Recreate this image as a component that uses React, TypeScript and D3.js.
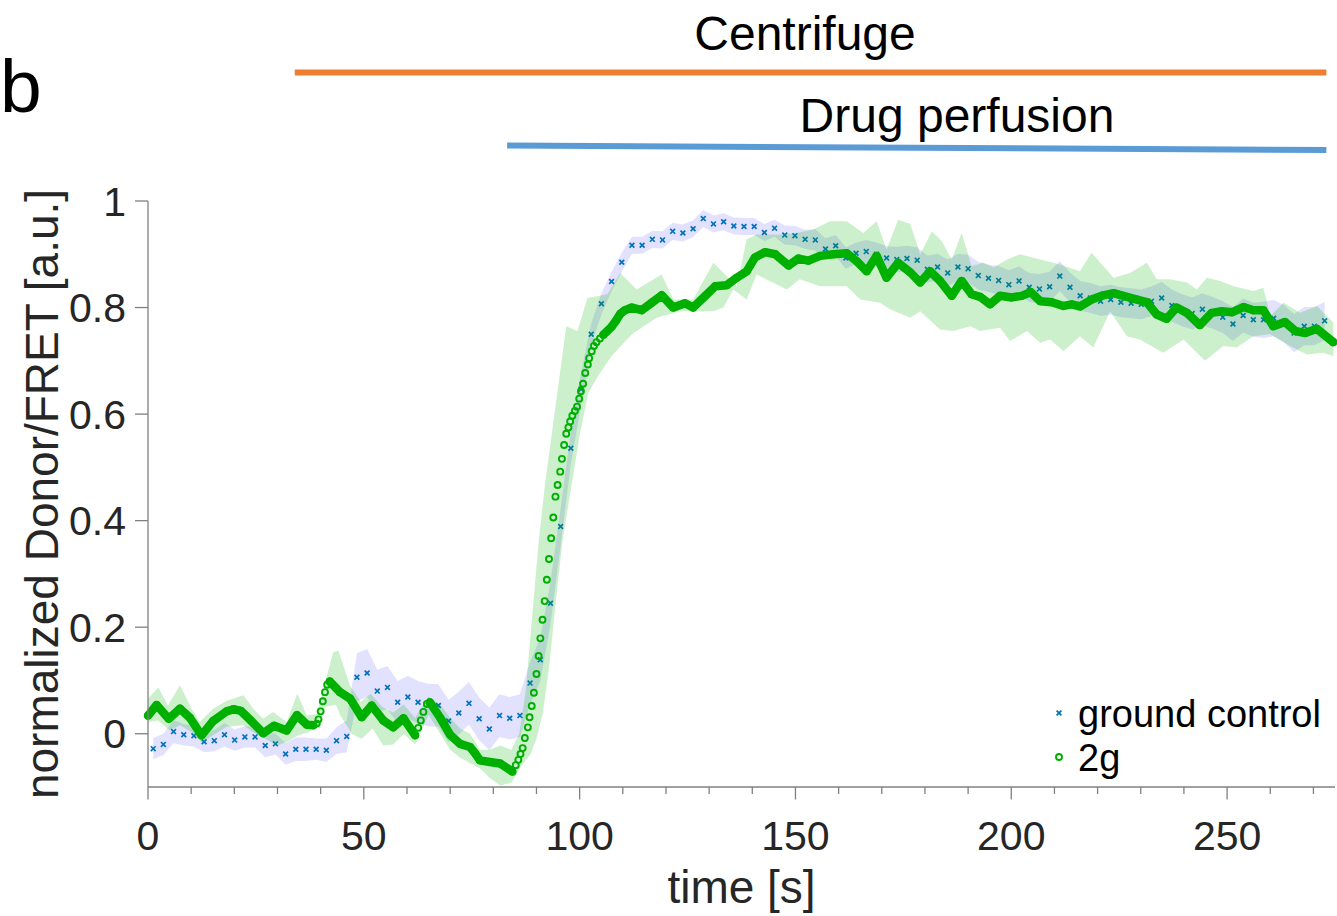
import React from "react";
import * as d3 from "d3";

const W = 1337;
const H = 916;
const FONT = "Arial, 'Liberation Sans', Helvetica, sans-serif";

// ground control: one value per camera frame
const frameStart = 1.2;
const frameStep = 2.36;
const groundControl = [
  -0.028, -0.02, 0.004, -0.002, -0.004, -0.015, -0.013, -0.002, -0.012, -0.006,
  -0.006, -0.022, -0.019, -0.038, -0.029, -0.029, -0.029, -0.031, -0.013, -0.005,
  0.106, 0.114, 0.08, 0.087, 0.059, 0.069, 0.059, 0.054, 0.053, 0.024,
  0.039, 0.057, 0.028, 0.009, 0.034, 0.029, 0.034, 0.095, 0.139, 0.245,
  0.389, 0.536, 0.647, 0.75, 0.807, 0.849, 0.885, 0.917, 0.917, 0.928,
  0.927, 0.943, 0.94, 0.948, 0.967, 0.957, 0.961, 0.953, 0.952, 0.952,
  0.941, 0.949, 0.936, 0.935, 0.928, 0.927, 0.91, 0.916, 0.893, 0.902,
  0.905, 0.9, 0.893, 0.89, 0.892, 0.889, 0.872, 0.876, 0.865, 0.876,
  0.873, 0.86, 0.855, 0.851, 0.843, 0.85, 0.838, 0.835, 0.839, 0.859,
  0.838, 0.822, 0.818, 0.812, 0.815, 0.81, 0.808, 0.806, 0.812, 0.818,
  0.804, 0.795, 0.789, 0.797, 0.79, 0.782, 0.769, 0.785, 0.777, 0.777,
  0.78, 0.77, 0.752, 0.765, 0.765, 0.775,
];
const groundSpread = [
  0.02, 0.02, 0.022, 0.02, 0.02, 0.02, 0.02, 0.022, 0.02, 0.02,
  0.02, 0.022, 0.02, 0.02, 0.022, 0.022, 0.02, 0.022, 0.025, 0.03,
  0.045, 0.045, 0.04, 0.04, 0.04, 0.04, 0.04, 0.04, 0.04, 0.04,
  0.04, 0.04, 0.04, 0.04, 0.04, 0.04, 0.04, 0.04, 0.04, 0.04,
  0.035, 0.03, 0.03,
  0.02, 0.02, 0.018, 0.018, 0.016, 0.016, 0.016, 0.016, 0.016, 0.016,
  0.016, 0.016, 0.016, 0.016, 0.016, 0.016, 0.016, 0.016, 0.016, 0.018,
  0.018, 0.018, 0.02, 0.02, 0.02, 0.02, 0.02,
  0.022, 0.022, 0.022, 0.024, 0.024, 0.024, 0.025, 0.025, 0.025, 0.025,
  0.026, 0.026, 0.026, 0.027, 0.027, 0.027, 0.027, 0.028, 0.028, 0.028,
  0.028, 0.028, 0.028, 0.028, 0.028, 0.028, 0.028, 0.028, 0.028, 0.03,
  0.03, 0.03, 0.03, 0.03, 0.03, 0.03, 0.032, 0.032, 0.032, 0.034,
  0.034, 0.035, 0.036, 0.036, 0.036, 0.036,
];

// 2g: [time s, value]
const g2Trace: [number, number][] = [
  [0, 0.034], [2.0, 0.054], [4.8, 0.028], [7.4, 0.047], [9.7, 0.03], [12.4, -0.003],
  [15.1, 0.024], [18.2, 0.042], [19.8, 0.046], [21.5, 0.043], [23.8, 0.025], [26.7, 0.001],
  [29.2, 0.015], [32.1, 0.006], [34.5, 0.035], [36.8, 0.017], [38.3, 0.016], [39.1, 0.019],
  [39.5, 0.027], [40.0, 0.042], [40.5, 0.061], [41.0, 0.078], [41.5, 0.092], [42.1, 0.098],
  [44.5, 0.078], [46.8, 0.066], [49.5, 0.031], [51.8, 0.053], [54.5, 0.025], [56.8, 0.012],
  [59.2, 0.029], [61.9, -0.003], [62.6, 0.011], [63.2, 0.025], [63.8, 0.041], [64.6, 0.056],
  [65.3, 0.059], [67.7, 0.03], [70.0, -0.002], [72.3, -0.019], [74.6, -0.025], [75.8, -0.037],
  [76.9, -0.05], [79.2, -0.053], [81.6, -0.056], [84.4, -0.071],
  [85.2, -0.059], [85.8, -0.049], [86.3, -0.038], [86.8, -0.027], [87.3, -0.008], [88.0, 0.012],
  [88.4, 0.031], [88.9, 0.052], [89.4, 0.077], [90.0, 0.112], [90.5, 0.146], [90.9, 0.179],
  [91.4, 0.214], [91.9, 0.249], [92.4, 0.289], [92.9, 0.328], [93.4, 0.367], [93.9, 0.406],
  [94.4, 0.445], [94.9, 0.467], [95.5, 0.492], [95.9, 0.516], [96.4, 0.542], [96.9, 0.563],
  [97.4, 0.575], [97.8, 0.586], [98.3, 0.597], [98.9, 0.606], [99.4, 0.614], [99.9, 0.629],
  [100.3, 0.643], [100.8, 0.657], [101.3, 0.677], [101.9, 0.693], [102.2, 0.705], [102.8, 0.718],
  [103.3, 0.728], [103.9, 0.735], [104.7, 0.742], [105.5, 0.749], [106.4, 0.756], [107.4, 0.764],
  [108.4, 0.775], [109.4, 0.788], [110.5, 0.795], [112.1, 0.8], [114.4, 0.795], [116.7, 0.809],
  [119.0, 0.823], [121.7, 0.8], [124.4, 0.808], [126.3, 0.8], [129.1, 0.822], [131.4, 0.84],
  [134.1, 0.842], [136.4, 0.856], [138.7, 0.868], [140.6, 0.894], [143.0, 0.904], [145.3, 0.9],
  [148.4, 0.879], [150.7, 0.892], [153.0, 0.888], [155.7, 0.897], [158.8, 0.9], [161.9, 0.902],
  [164.2, 0.887], [166.5, 0.868], [168.8, 0.897], [171.1, 0.856], [173.8, 0.884], [176.6, 0.866],
  [178.9, 0.847], [181.2, 0.868], [183.5, 0.85], [186.2, 0.822], [188.5, 0.85], [190.8, 0.825],
  [192.8, 0.82], [195.1, 0.806], [197.4, 0.822], [200.1, 0.819], [202.4, 0.822], [204.5, 0.829],
  [206.7, 0.812], [209.4, 0.81], [212.1, 0.803], [214.0, 0.806], [215.9, 0.802], [218.6, 0.815],
  [221.3, 0.823], [223.7, 0.827], [226.8, 0.82], [229.1, 0.815], [231.4, 0.81], [233.7, 0.787],
  [236.0, 0.779], [238.3, 0.8], [240.7, 0.79], [243.7, 0.767], [246.4, 0.79], [248.8, 0.793],
  [251.1, 0.791], [253.8, 0.801], [256.1, 0.795], [258.4, 0.795], [260.7, 0.765], [263.4, 0.773],
  [265.8, 0.756], [268.1, 0.752], [270.8, 0.76], [274.6, 0.735],
];
const g2Upper: [number, number][] = [
  [0, 0.066], [2.4, 0.087], [4.6, 0.053], [7.4, 0.091], [10.1, 0.047], [12.0, 0.022], [15.1, 0.047],
  [18.2, 0.062], [22.1, 0.072], [24.4, 0.047], [26.7, 0.028], [29.0, 0.041], [32.1, 0.022], [34.6, 0.075],
  [36.8, 0.034], [39.1, 0.037], [42.9, 0.153], [44.1, 0.156], [46.8, 0.09], [49.3, 0.06], [51.6, 0.075],
  [54.3, 0.05], [56.8, 0.04], [59.2, 0.055], [61.9, 0.03], [65.0, 0.07], [67.7, 0.055], [70.0, 0.03],
  [72.3, 0.01], [74.6, 0.0], [76.9, -0.03], [79.2, -0.03], [81.6, -0.022], [84.2, -0.03], [86.0, 0.0],
  [87.5, 0.08], [89.0, 0.22], [90.5, 0.36], [92.0, 0.47], [93.7, 0.572], [96.9, 0.765], [99.5, 0.756],
  [101.8, 0.818], [106.4, 0.825], [109.4, 0.865], [113.2, 0.834], [119.0, 0.862], [121.7, 0.815],
  [126.3, 0.815], [131.0, 0.884], [136.4, 0.84], [138.7, 0.928], [141.0, 0.937], [146.4, 0.937],
  [150.3, 0.94], [154.2, 0.947], [158.0, 0.962], [161.9, 0.962], [165.7, 0.94], [168.8, 0.962],
  [171.1, 0.909], [173.8, 0.965], [176.6, 0.957], [178.9, 0.9], [181.6, 0.943], [183.9, 0.925],
  [186.2, 0.89], [188.5, 0.94], [190.8, 0.878], [193.5, 0.884], [195.9, 0.875], [199.0, 0.89],
  [202.0, 0.9], [206.7, 0.89], [211.3, 0.881], [215.9, 0.868], [218.6, 0.903], [221.3, 0.878],
  [223.7, 0.856], [227.5, 0.865], [231.4, 0.884], [233.7, 0.853], [236.8, 0.853], [240.7, 0.847],
  [243.0, 0.834], [245.3, 0.856], [248.4, 0.85], [251.5, 0.84], [256.1, 0.831], [258.4, 0.837],
  [260.0, 0.784], [263.1, 0.809], [266.9, 0.79], [270.8, 0.803], [274.6, 0.772],
];
const g2Lower: [number, number][] = [
  [0, 0.022], [2.3, 0.025], [5.1, 0.006], [7.4, 0.016], [10.1, 0.003], [12.4, -0.016], [15.1, -0.003],
  [18.2, 0.013], [22.1, 0.016], [24.4, 0.003], [27.1, -0.009], [29.8, -0.022], [32.1, -0.016],
  [34.8, -0.003], [37.2, 0.003], [39.5, 0.013], [41.0, 0.05], [43.5, 0.055], [44.5, 0.035], [47.2, 0.0],
  [49.5, -0.01], [52.0, 0.01], [54.5, -0.022], [56.8, -0.02], [59.2, 0.0], [61.9, -0.02], [65.0, 0.035],
  [67.7, 0.0], [70.0, -0.03], [72.3, -0.045], [74.6, -0.055], [76.9, -0.065], [79.2, -0.083],
  [81.6, -0.097], [84.2, -0.092], [86.5, -0.06], [88.5, -0.04], [90.0, -0.01], [91.5, 0.04], [93.0, 0.13],
  [94.5, 0.25], [96.0, 0.36], [98.0, 0.46], [100.0, 0.56], [102.0, 0.64], [104.3, 0.672], [107.4, 0.709],
  [112.1, 0.75], [117.8, 0.781], [123.3, 0.793], [131.0, 0.793], [133.3, 0.8], [135.6, 0.834],
  [138.7, 0.815], [141.0, 0.862], [148.0, 0.834], [151.0, 0.853], [155.7, 0.84], [161.9, 0.84],
  [165.0, 0.815], [169.6, 0.809], [171.9, 0.797], [176.6, 0.781], [178.9, 0.793], [183.5, 0.759],
  [186.6, 0.756], [190.5, 0.765], [192.8, 0.756], [197.4, 0.762], [199.7, 0.737], [203.6, 0.756],
  [206.7, 0.734], [209.0, 0.74], [212.1, 0.718], [215.9, 0.746], [219.0, 0.725], [222.9, 0.793],
  [226.8, 0.746], [229.8, 0.74], [235.2, 0.715], [239.9, 0.74], [244.9, 0.7], [249.1, 0.728],
  [252.2, 0.725], [256.1, 0.746], [260.0, 0.75], [264.6, 0.728], [268.5, 0.712], [272.3, 0.715],
  [274.6, 0.709],
];

// annotation bars: [start s, end s]
const centrifugeSpan = [34, 273];
const drugSpan = [83.2, 273];

const xTicks = [0, 50, 100, 150, 200, 250];
const xMinorTicks = [10, 20, 30, 40, 60, 70, 80, 90, 110, 120, 130, 140, 160, 170, 180, 190, 210, 220, 230, 240, 260, 270];
const yTicks = [0, 0.2, 0.4, 0.6, 0.8, 1];
const yTickLabels = ["0", "0.2", "0.4", "0.6", "0.8", "1"];

const BLUE = "#0072bd";
const GREEN = "#00b000";
const AXIS = "#808080";
const TEXT = "#262626";

export default function App() {
  const x = d3.scaleLinear().domain([0, 275]).range([148, 1335]);
  const y = d3.scaleLinear().domain([-0.1, 1]).range([787, 201]);

  const gc = groundControl.map((v, i) => ({ t: frameStart + i * frameStep, v, s: groundSpread[i] }));

  const blueBand = d3
    .area<{ t: number; v: number; s: number }>()
    .x((d) => x(d.t))
    .y0((d) => y(d.v - d.s))
    .y1((d) => y(d.v + d.s))(gc);

  const edge = d3
    .line<[number, number]>()
    .x((d) => x(d[0]))
    .y((d) => y(d[1]));
  const greenBand = edge(g2Upper.concat(g2Lower.slice().reverse())) + "Z";

  // the dense ring markers read as a solid band where frames are far apart
  const runs: [number, number][][] = [];
  let cur: [number, number][] = [];
  for (let i = 0; i < g2Trace.length - 1; i++) {
    if (g2Trace[i + 1][0] - g2Trace[i][0] >= 0.9) {
      if (cur.length === 0) cur.push(g2Trace[i]);
      cur.push(g2Trace[i + 1]);
    } else if (cur.length) {
      runs.push(cur);
      cur = [];
    }
  }
  if (cur.length) runs.push(cur);

  const xMark = (cx: number, cy: number, k: number, r = 2.4) => (
    <path
      key={k}
      d={`M${cx - r},${cy - r}L${cx + r},${cy + r}M${cx - r},${cy + r}L${cx + r},${cy - r}`}
      stroke={BLUE}
      strokeWidth={1.7}
    />
  );

  return (
    <svg
      width={W}
      height={H}
      style={{ position: "absolute", left: 0, top: 0, background: "#fff" }}
      fontFamily={FONT}
    >
      <rect width={W} height={H} fill="#fff" />

      {/* annotations */}
      <text x={0} y={112} fontSize={75} fill="#000">b</text>
      <text x={805} y={50} fontSize={48} textAnchor="middle" fill="#000">Centrifuge</text>
      <line x1={x(centrifugeSpan[0])} x2={x(centrifugeSpan[1])} y1={72.5} y2={72.5} stroke="#ed7d31" strokeWidth={6} />
      <text x={957} y={132} fontSize={48} textAnchor="middle" fill="#000">Drug perfusion</text>
      <line x1={x(drugSpan[0])} x2={x(drugSpan[1])} y1={145.5} y2={150} stroke="#5b9bd5" strokeWidth={6} />

      {/* data */}
      <path d={blueBand ?? ""} fill="rgba(190,190,255,0.45)" stroke="none" />
      <g>{gc.map((d, i) => xMark(x(d.t), y(d.v), i))}</g>
      <path d={greenBand} fill="rgba(0,175,0,0.2)" stroke="none" />
      <g fill="none" stroke={GREEN} strokeLinejoin="round" strokeLinecap="round">
        {runs.map((r, i) => (
          <path key={i} d={edge(r) ?? ""} strokeWidth={8.5} />
        ))}
        {g2Trace.map((d, i) => (
          <circle key={i} cx={x(d[0])} cy={y(d[1])} r={3} strokeWidth={1.9} />
        ))}
      </g>

      {/* axes */}
      <g stroke={AXIS} strokeWidth={1.3} fill="none">
        <line x1={x(0)} x2={x(275)} y1={y(-0.1)} y2={y(-0.1)} />
        <line x1={x(0)} x2={x(0)} y1={y(-0.1)} y2={y(1)} />
        {xTicks.map((t) => (
          <line key={"M" + t} x1={x(t)} x2={x(t)} y1={y(-0.1)} y2={y(-0.1) + 12.5} />
        ))}
        {xMinorTicks.map((t) => (
          <line key={"m" + t} x1={x(t)} x2={x(t)} y1={y(-0.1)} y2={y(-0.1) + 7} />
        ))}
        {yTicks.map((v) => (
          <line key={"y" + v} x1={x(0) - 13} x2={x(0)} y1={y(v)} y2={y(v)} />
        ))}
      </g>
      <g fill={TEXT} fontSize={41}>
        {xTicks.map((t) => (
          <text key={t} x={x(t)} y={850} textAnchor="middle">{t}</text>
        ))}
        {yTicks.map((v, i) => (
          <text key={v} x={126} y={y(v) + 14.5} textAnchor="end">{yTickLabels[i]}</text>
        ))}
      </g>
      <text x={741.5} y={903} fontSize={46} textAnchor="middle" fill={TEXT}>time [s]</text>
      <text transform="translate(58,494) rotate(-90)" fontSize={46} textAnchor="middle" fill={TEXT}>
        normalized Donor/FRET [a.u.]
      </text>

      {/* legend */}
      {xMark(1059, 713, -1)}
      <text x={1078} y={727} fontSize={38} fill="#000">ground control</text>
      <circle cx={1059} cy={757} r={3} fill="none" stroke={GREEN} strokeWidth={1.9} />
      <text x={1078} y={771} fontSize={38} fill="#000">2g</text>
    </svg>
  );
}
